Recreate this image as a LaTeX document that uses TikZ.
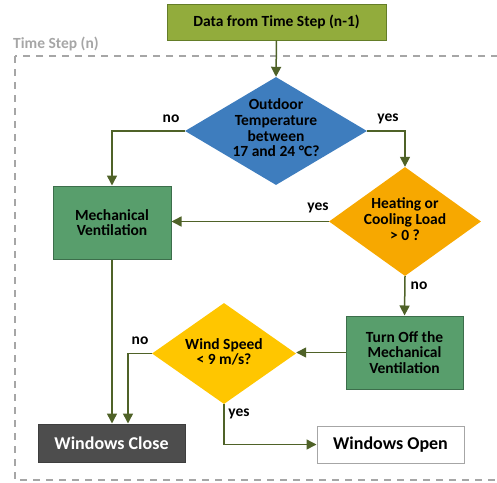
\documentclass[tikz,border=0pt]{standalone}
\usepackage{fontspec}
\setmainfont{Carlito}
\usetikzlibrary{shapes.geometric,arrows.meta}
\definecolor{topgreen}{RGB}{146,172,60}
\definecolor{topedge}{RGB}{100,125,40}
\definecolor{dblue}{RGB}{62,125,190}
\definecolor{bgreen}{RGB}{88,158,108}
\definecolor{bgedge}{RGB}{60,110,75}
\definecolor{dorange}{RGB}{247,168,0}
\definecolor{dyellow}{RGB}{255,198,0}
\definecolor{arrowc}{RGB}{79,98,40}
\definecolor{closec}{RGB}{77,77,77}
\definecolor{dashc}{RGB}{166,166,166}
\begin{document}
\begin{tikzpicture}[x=1pt,y=-1pt,
  font=\fontsize{15.5}{15.6}\selectfont\bfseries,
  box/.style={rectangle,draw,line width=1pt,inner sep=0pt,align=center},
  lab/.style={inner sep=0pt,align=center},
  conn/.style={draw=arrowc,line width=1.5pt,-{Triangle[length=10pt,width=10pt]}},
  yn/.style={inner sep=0pt},
  bigtext/.style={font=\fontsize{18}{19}\selectfont\bfseries}
]
\useasboundingbox (0,0) rectangle (497,482);
\draw[dashc,line width=2pt,dash pattern=on 7pt off 6pt] (15,56) rectangle (515,480);
\node[anchor=base west,text=dashc,inner sep=0pt] (ts) at (13,48) {Time Step (n)};

\node[box,fill=topgreen,draw=topedge,minimum width=219pt,minimum height=36pt] (top) at (276.5,22) {Data from Time Step (n-1)};

\node[diamond,fill=dblue,inner sep=0pt,minimum width=182pt,minimum height=108pt] (d1) at (276,131) {};
\node[lab] (d1t) at (276,128) {Outdoor\\Temperature\\between\\17 and 24 °C?};

\node[box,fill=bgreen,draw=bgedge,minimum width=118pt,minimum height=73pt] (mv) at (112,222.5) {Mechanical\\Ventilation};

\node[diamond,fill=dorange,inner sep=0pt,minimum width=152pt,minimum height=109pt] (d2) at (405,221.5) {};
\node[lab] (d2t) at (405,219) {Heating or\\Cooling Load\\> 0 ?};

\node[box,fill=bgreen,draw=bgedge,minimum width=117pt,minimum height=73pt] (off) at (404.5,352.5) {Turn Off the\\Mechanical\\Ventilation};

\node[diamond,fill=dyellow,inner sep=0pt,minimum width=144pt,minimum height=101pt] (d3) at (224,353.5) {};
\node[lab] (d3t) at (224,352) {Wind Speed\\< 9 m/s?};

\node[box,fill=closec,draw=closec!80!black,text=white,minimum width=147pt,minimum height=38pt,bigtext] (wc) at (111.5,443) {Windows Close};
\node[box,fill=white,draw=dashc,minimum width=147pt,minimum height=37pt,bigtext] (wo) at (390.5,444.5) {Windows Open};

\draw[conn] (top.south) -- (d1.north);
\draw[conn] (d1.west) -| (mv.north);
\draw[conn] (d1.east) -| (d2.north);
\draw[conn] (d2.west) -- (d2.west -| mv.east);
\draw[conn] (d2.south) -- (off.north);
\draw[conn] (off.west) -- (off.west -| d3.east);
\draw[conn] (mv.south) -- (mv.south |- wc.north);
\draw[conn] (d3.west) -| ([xshift=16.5pt]wc.north);
\draw[conn] (d3.south) |- (wo.west);

\node[yn] (l1) at (171,119) {no};
\node[yn] (l2) at (388,119) {yes};
\node[yn] (l3) at (318,208) {yes};
\node[yn] (l4) at (419,286) {no};
\node[yn] (l5) at (140,341) {no};
\node[yn] (l6) at (239,414) {yes};
\end{tikzpicture}
\end{document}
